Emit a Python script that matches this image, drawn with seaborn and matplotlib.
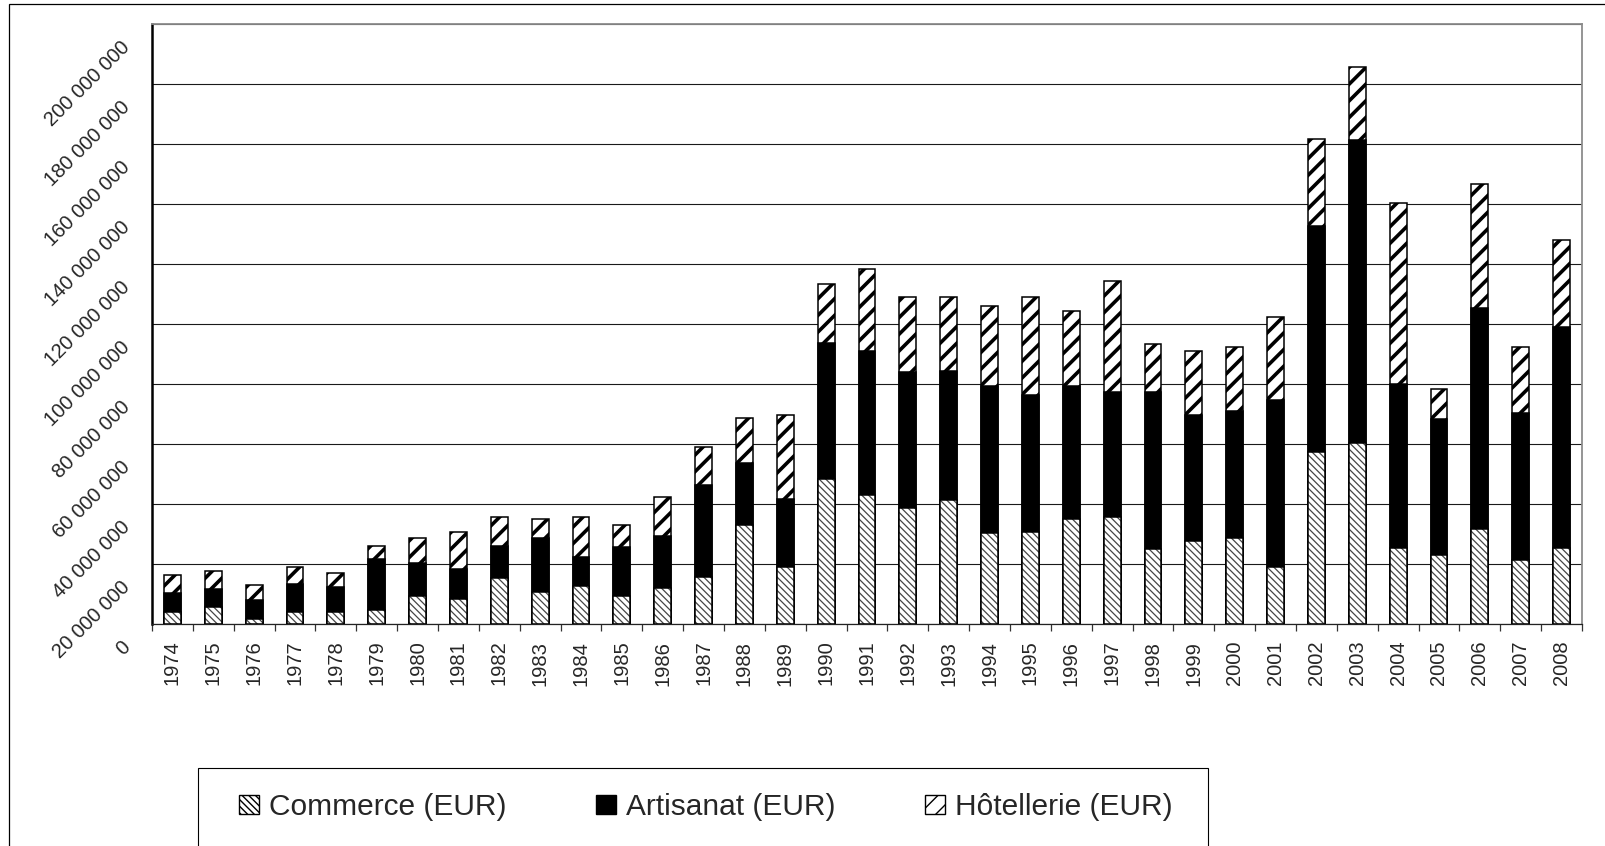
import numpy as np
import matplotlib
matplotlib.use("Agg")
import matplotlib.pyplot as plt
from matplotlib.patches import Patch, Rectangle
from matplotlib.transforms import ScaledTranslation
import seaborn as sns

# ---------------------------------------------------------------------------
# Data (millions EUR)
# ---------------------------------------------------------------------------
years = [str(y) for y in range(1974, 2009)]

commerce = [4.1, 5.6, 1.6, 4.1, 4.1, 4.7, 9.3, 8.2, 15.2, 10.7,
            12.7, 9.3, 12.0, 15.8, 32.9, 19.1, 48.4, 43.1, 38.7, 41.2,
            30.2, 30.8, 34.9, 35.6, 25.0, 27.6, 28.8, 19.0, 57.4, 60.5,
            25.4, 22.9, 31.6, 21.5, 25.4]

artisanat = [6.3, 6.2, 6.4, 9.1, 8.3, 16.9, 10.9, 10.0, 10.9, 18.0,
             9.5, 16.3, 17.3, 30.5, 20.7, 22.7, 45.4, 48.0, 45.4, 43.2,
             49.1, 45.4, 44.4, 41.8, 52.4, 42.2, 42.2, 55.8, 75.3, 100.7,
             54.5, 45.4, 73.7, 48.8, 73.5]

hotellerie = [5.8, 5.8, 5.0, 5.7, 4.5, 4.4, 8.5, 12.5, 9.7, 6.4,
              13.6, 7.5, 12.9, 12.8, 15.2, 27.8, 19.4, 27.2, 25.0, 24.7,
              26.6, 32.9, 25.1, 36.9, 16.0, 21.2, 21.2, 27.6, 28.9, 24.5,
              60.5, 10.2, 41.4, 21.9, 29.0]

series_labels = ["Commerce (EUR)", "Artisanat (EUR)", "Hôtellerie (EUR)"]
y_ticks = np.arange(0, 200_000_001, 20_000_000)

# cumulative stacks (drawn back to front)
com = np.array(commerce) * 1e6
art_cum = com + np.array(artisanat) * 1e6
hot_cum = art_cum + np.array(hotellerie) * 1e6

# ---------------------------------------------------------------------------
# Style
# ---------------------------------------------------------------------------
sns.set_style("white")
plt.rcParams["font.family"] = ["Liberation Sans", "DejaVu Sans"]

W, H, DPI = 1605, 846, 100
fig = plt.figure(figsize=(W / DPI, H / DPI), dpi=DPI)
ax = fig.add_axes([152 / W, 1 - 624 / H, (1582 - 152) / W, (624 - 24) / H])

bar_w = 0.41
COM_HATCH = "\\\\\\\\\\"
HOT_HATCH = "//"
TICK_FS = 14.5


def draw_layer(values, face, edge, hatch=None, hatch_lw=1.0, lw=1.1, fill=True):
    with plt.rc_context({"hatch.linewidth": hatch_lw}):
        before = len(ax.patches)
        sns.barplot(x=years, y=values, order=years, color=face, saturation=1,
                    width=bar_w, edgecolor=edge, linewidth=lw, hatch=hatch,
                    fill=fill, ax=ax, zorder=3)
        for p in ax.patches[before:]:
            if hasattr(p, "set_hatch_linewidth"):
                p.set_hatch_linewidth(hatch_lw)


# Hôtellerie (total height)
draw_layer(hot_cum, "white", "black", hatch=HOT_HATCH, hatch_lw=2.6)
# Artisanat (solid black)
draw_layer(art_cum, "black", "black")
# Commerce: grey hatch, then black outline
draw_layer(com, "white", "#454545", hatch=COM_HATCH, hatch_lw=0.9, lw=0)
draw_layer(com, "white", "black", fill=False)

# ---------------------------------------------------------------------------
# Axes
# ---------------------------------------------------------------------------
ax.set_xlim(-0.5, len(years) - 0.5)
ax.set_ylim(0, 200_000_000)
ax.set_xlabel("")
ax.set_ylabel("")

ax.set_yticks(y_ticks)
ax.set_yticklabels([f"{v:,}".replace(",", " ") for v in y_ticks],
                   fontsize=TICK_FS)
ax.yaxis.grid(True, color="#1a1a1a", linewidth=0.8, zorder=0)
ax.set_axisbelow(True)

ax.tick_params(axis="y", which="major", direction="out", length=6, width=1.6,
               color="black", pad=12)
for lbl in ax.get_yticklabels():
    lbl.set_rotation(45)
    lbl.set_rotation_mode("anchor")
    lbl.set_ha("right")
    lbl.set_va("center")
    lbl.set_transform(lbl.get_transform()
                      + ScaledTranslation(0, -20 / DPI, fig.dpi_scale_trans))

ax.set_xticks(range(len(years)))
ax.set_xticklabels(years, rotation=90, fontsize=TICK_FS, va="top")
ax.set_xticks(np.arange(-0.5, len(years)), minor=True)
ax.tick_params(axis="x", which="major", length=0, pad=12)
ax.tick_params(axis="x", which="minor", direction="out", length=5, width=0.9,
               color="#333333", bottom=True)

for side in ["top", "right"]:
    ax.spines[side].set_color("#8c8c8c")
    ax.spines[side].set_linewidth(1.3)
ax.spines["left"].set_color("black")
ax.spines["left"].set_linewidth(1.8)
ax.spines["bottom"].set_color("#222222")
ax.spines["bottom"].set_linewidth(0.9)
for s in ax.spines.values():
    s.set_zorder(4)

# ---------------------------------------------------------------------------
# Legend
# ---------------------------------------------------------------------------
handles = [
    Patch(facecolor="white", edgecolor="black", hatch=COM_HATCH, linewidth=1.0),
    Patch(facecolor="black", edgecolor="black", linewidth=1.0),
    Patch(facecolor="white", edgecolor="black", hatch="//", linewidth=1.0),
]
fig.legend(handles, series_labels, loc="center",
           bbox_to_anchor=(706 / W, 1 - 807 / H), ncol=3, frameon=False,
           fontsize=21.5, handlelength=0.65, handleheight=0.65,
           handletextpad=0.35, columnspacing=3.0)

# legend box (runs off the bottom edge) and outer frame
fig.add_artist(Rectangle((198 / W, -0.2), (1208 - 198) / W, 0.2 + (846 - 768) / H,
                         transform=fig.transFigure, fill=False,
                         edgecolor="black", linewidth=0.8))
fig.add_artist(Rectangle((9 / W, -0.2), 1.2, 0.2 + (846 - 4) / H,
                         transform=fig.transFigure, fill=False,
                         edgecolor="black", linewidth=0.9))

fig.savefig("out.png", dpi=DPI)
